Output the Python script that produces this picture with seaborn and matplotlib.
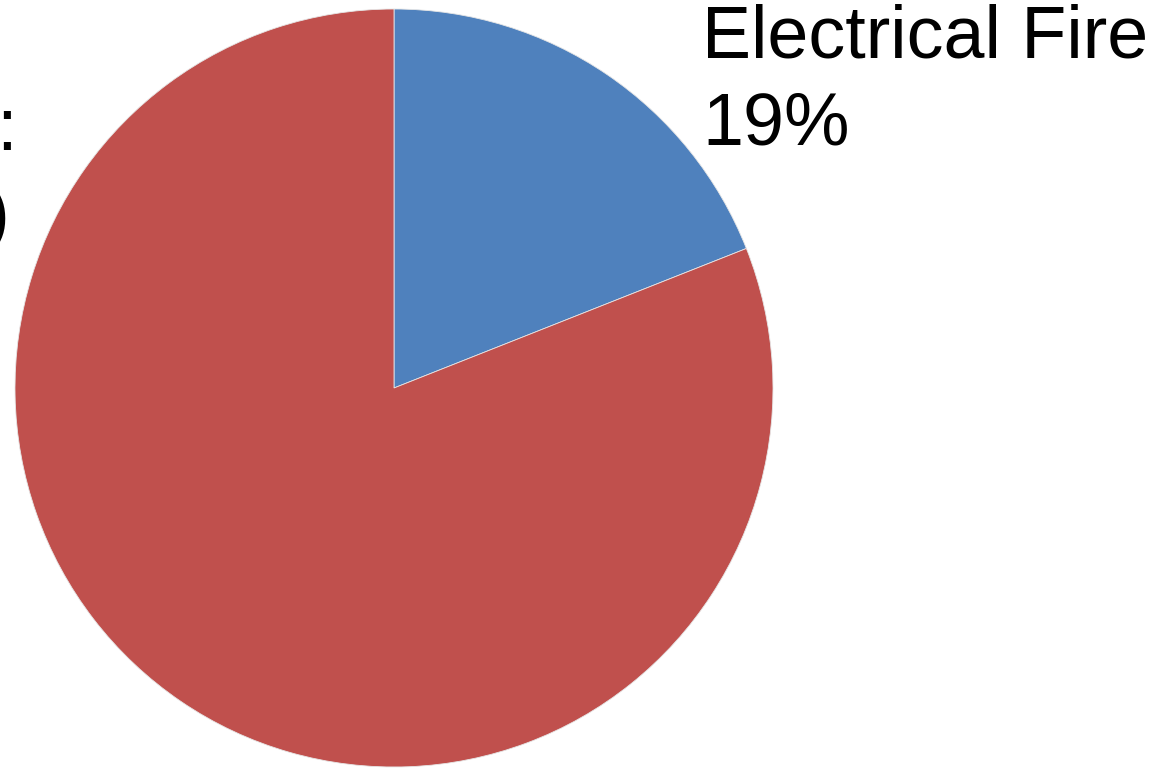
import matplotlib
matplotlib.use("Agg")
import matplotlib.pyplot as plt
import seaborn as sns

categories = ["Electrical Fire", "Other"]
values = [19, 81]
colors = ["#4F81BD", "#C0504D"]
label_texts = ["Electrical Fire\n19%", "Other:\n(81%)"]

sns.set_theme(style="white")
plt.rcParams["font.family"] = ["Liberation Sans", "DejaVu Sans"]

W, H = 1155, 768
fig = plt.figure(figsize=(W / 100, H / 100), dpi=100)
fig.patch.set_facecolor("white")

cx, cy, r = 394, 388, 379
ax = fig.add_axes([(cx - r) / W, (H - cy - r) / H, 2 * r / W, 2 * r / H])
ax.pie(values, colors=sns.color_palette(colors), startangle=90, counterclock=False,
       radius=1, wedgeprops=dict(edgecolor="#e6e6e6", linewidth=0.6))
ax.set_xlim(-1, 1)
ax.set_ylim(-1, 1)
ax.set_aspect("auto")
ax.axis("off")

fs = 53
t1 = fig.text(702 / W, 1 - 3 / H, label_texts[0], ha="left", va="top",
              fontsize=fs, color="black", linespacing=1.35)
t2 = fig.text(0, 1 - 96 / H, label_texts[1], ha="left", va="top",
              fontsize=fs, color="black", linespacing=1.35)

fig.canvas.draw()
rend = fig.canvas.get_renderer()
bb = t2.get_window_extent(rend)
# shift so that the right edge of the first line sits near x=18px
t2.set_x((18 - bb.width) / W)

fig.savefig("out.png", dpi=100, facecolor="white")
